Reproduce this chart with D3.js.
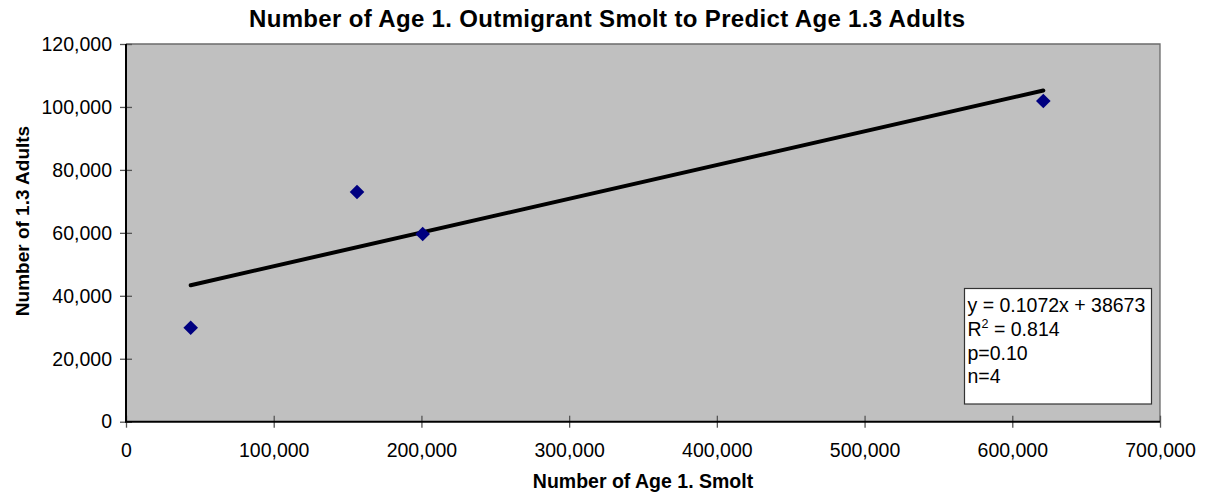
<!DOCTYPE html>
<html>
<head>
<meta charset="utf-8">
<script src="https://cdn.jsdelivr.net/npm/d3@7/dist/d3.min.js"></script>
<style>
  html, body { margin: 0; padding: 0; background: #fff; }
  svg { display: block; }
  text { font-family: "Liberation Sans", Arial, sans-serif; }
</style>
</head>
<body>
<svg id="chart" width="1206" height="497"></svg>
<script>
// ---- Data ----
const smolt  = [43800, 156400, 200850, 621000];   // Number of Age 1. Smolt
const adults = [29860, 73000, 59640, 101900];     // Number of 1.3 Adults
const xTicks = [0, 100000, 200000, 300000, 400000, 500000, 600000, 700000];
const yTicks = [0, 20000, 40000, 60000, 80000, 100000, 120000];
const trendSlope = 0.1072;
const trendIntercept = 38673;
const statLines = ["y = 0.1072x + 38673", "R2 = 0.814", "p=0.10", "n=4"];
const chartTitle = "Number of Age 1. Outmigrant Smolt to Predict Age 1.3 Adults";
const xTitle = "Number of Age 1. Smolt";
const yTitle = "Number of 1.3 Adults";

const svg = d3.select("#chart");
const L = 126, R = 1160, T = 44, B = 421.7;
const x = d3.scaleLinear().domain([0, 700000]).range([L, R]);
const y = d3.scaleLinear().domain([0, 120000]).range([B, T]);
const fmt = d3.format(",");

// plot area
svg.append("rect").attr("x", L).attr("y", T).attr("width", R - L).attr("height", B - T)
  .attr("fill", "#c0c0c0").attr("stroke", "none");
// top and right border
svg.append("path").attr("d", `M${L},${T}H${R}V${B}`).attr("fill", "none")
  .attr("stroke", "#6b6b6b").attr("stroke-width", 1.3);

// axes
const yAxis = svg.append("g").attr("transform", `translate(${L},0)`)
  .call(d3.axisLeft(y).tickValues(yTicks).tickFormat(fmt).tickSize(6).tickPadding(14));
yAxis.select(".domain").remove();
yAxis.selectAll(".tick line").attr("x1", -6).attr("x2", 6).attr("stroke", "#555").attr("stroke-width", 1.3);
yAxis.selectAll(".tick text").attr("font-size", 19.5).attr("fill", "#000")
  .attr("font-family", "'Liberation Sans', Arial, sans-serif").attr("x", -14);

const xAxis = svg.append("g").attr("transform", `translate(0,${B})`)
  .call(d3.axisBottom(x).tickValues(xTicks).tickFormat(fmt).tickSize(6));
xAxis.select(".domain").remove();
xAxis.selectAll(".tick line").attr("y1", -6).attr("y2", 6).attr("stroke", "#555").attr("stroke-width", 1.3);
xAxis.selectAll(".tick text").attr("font-size", 19.5).attr("fill", "#000")
  .attr("font-family", "'Liberation Sans', Arial, sans-serif")
  .attr("dy", null).attr("y", 35.5);

// axis lines
svg.append("line").attr("x1", L).attr("x2", L).attr("y1", T).attr("y2", B + 0.5)
  .attr("stroke", "#000").attr("stroke-width", 2);
svg.append("line").attr("x1", L - 1).attr("x2", R).attr("y1", B).attr("y2", B)
  .attr("stroke", "#000").attr("stroke-width", 2);

// trendline over the data range
const xMin = d3.min(smolt), xMax = d3.max(smolt);
svg.append("line")
  .attr("x1", x(xMin)).attr("y1", y(trendSlope * xMin + trendIntercept))
  .attr("x2", x(xMax)).attr("y2", y(trendSlope * xMax + trendIntercept))
  .attr("stroke", "#000").attr("stroke-width", 4).attr("stroke-linecap", "round");

// points
const pts = smolt.map((v, i) => [v, adults[i]]);
svg.append("g").selectAll("path").data(pts).join("path")
  .attr("d", d => { const cx = x(d[0]), cy = y(d[1]), s = 7.3;
    return `M${cx},${cy - s}L${cx + s},${cy}L${cx},${cy + s}L${cx - s},${cy}Z`; })
  .attr("fill", "#000080");

// stats box
const bx = 964.5, by = 288.5, bw = 187, bh = 115.5;
svg.append("rect").attr("x", bx).attr("y", by).attr("width", bw).attr("height", bh)
  .attr("fill", "#fff").attr("stroke", "#333").attr("stroke-width", 1.2);
const base = [311.5, 336, 359.5, 382.5];
statLines.forEach((s, i) => {
  const t = svg.append("text").attr("x", bx + 3).attr("y", base[i]).attr("font-size", 19.5).attr("fill", "#000");
  if (s.startsWith("R2")) {
    t.append("tspan").text("R");
    t.append("tspan").text("2").attr("font-size", 12.5).attr("dy", -8);
    t.append("tspan").text(s.slice(2)).attr("dy", 8);
  } else t.text(s);
});

// titles
svg.append("text").attr("x", 607).attr("y", 27).attr("text-anchor", "middle")
  .attr("font-size", 24).attr("font-weight", "bold")
  .attr("textLength", 716).attr("lengthAdjust", "spacing").text(chartTitle);
svg.append("text").attr("x", 643).attr("y", 488).attr("text-anchor", "middle")
  .attr("font-size", 19.5).attr("font-weight", "bold").text(xTitle);
svg.append("text").attr("transform", "translate(29,221) rotate(-90)").attr("text-anchor", "middle")
  .attr("font-size", 19).attr("font-weight", "bold").text(yTitle);
</script>
</body>
</html>
